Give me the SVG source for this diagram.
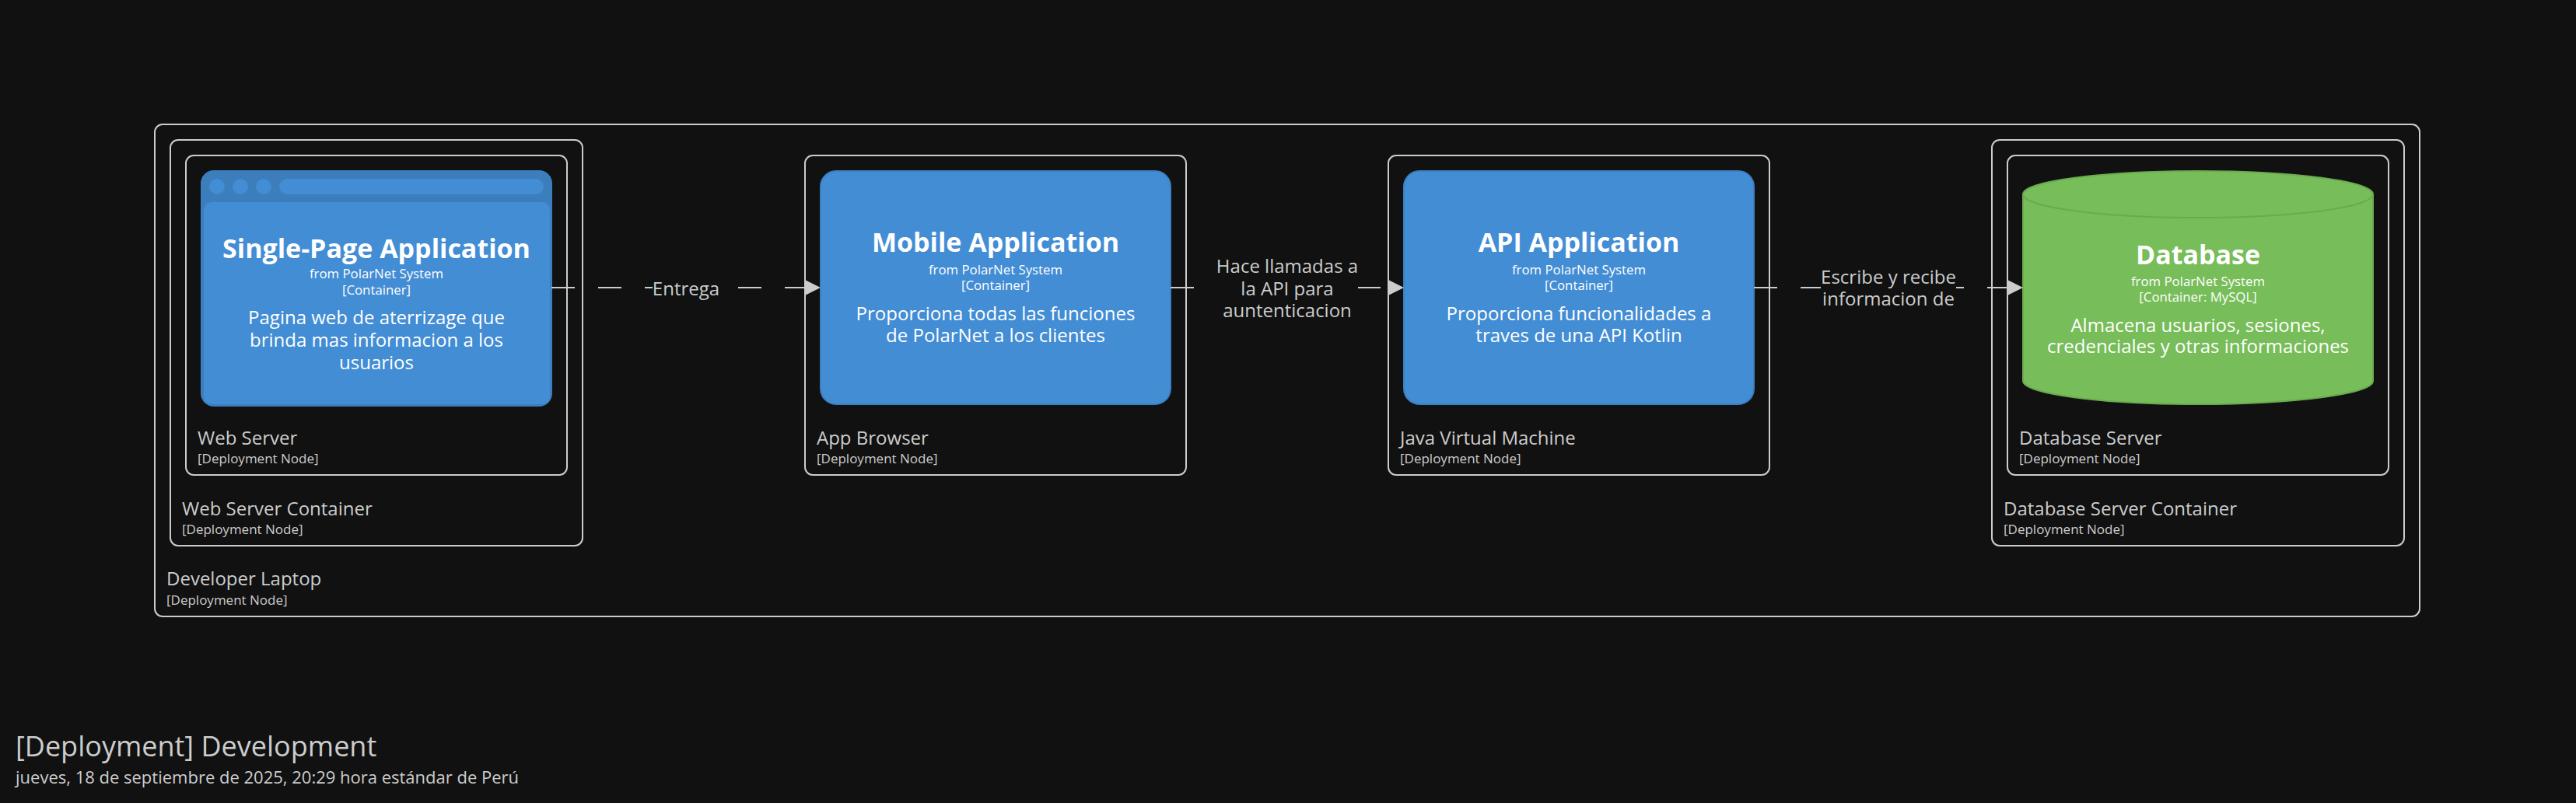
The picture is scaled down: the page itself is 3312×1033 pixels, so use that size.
<svg xmlns="http://www.w3.org/2000/svg" width="3312" height="1033" viewBox="0 0 3312 1033">
<style>
text{font-family:"Open Sans","Noto Sans","Liberation Sans",sans-serif}
.dn{fill:none;stroke:#ccc;stroke-width:2}
.l{fill:#ccc;font-size:24px}
.s{fill:#ccc;font-size:17px}
.c{fill:#438dd5;stroke:#3c7fc0;stroke-width:2}
.t{fill:#fff;font-size:34px;font-weight:700;text-anchor:middle}
.f{fill:#fff;font-size:16.800px;text-anchor:middle}
.d{fill:#fff;font-size:24px;text-anchor:middle}
.e{fill:#ccc;font-size:24px;text-anchor:middle}
.cl{fill:none;stroke:#ccc;stroke-width:2;stroke-dasharray:30 30}
.bg{fill:#111}
</style>
<defs>
<marker id="arrow" markerUnits="userSpaceOnUse" markerWidth="22" markerHeight="22" refX="0" refY="11" orient="auto"><path d="M0 1L20 11L0 21Z" fill="#ccc"/></marker>
</defs>
<rect width="3312" height="1033" fill="#111"/>
<g id="developer-laptop">
<rect class="dn" x="199" y="160" width="2912" height="633" rx="10"/>
<text class="l" x="214" y="753">Developer Laptop</text>
<text class="s" x="214" y="778">[Deployment Node]</text>
</g>
<g id="web-server-container">
<rect class="dn" x="219" y="180" width="530" height="522" rx="10"/>
<text class="l" x="234" y="663">Web Server Container</text>
<text class="s" x="234" y="687">[Deployment Node]</text>
</g>
<g id="web-server">
<rect class="dn" x="239" y="200" width="490" height="411" rx="10"/>
<text class="l" x="254" y="572">Web Server</text>
<text class="s" x="254" y="596">[Deployment Node]</text>
</g>
<g id="single-page-application">
<rect x="259" y="220" width="450" height="302" rx="16" fill="#3c7dbc" stroke="#3c7fc0" stroke-width="2"/>
<rect x="262" y="260" width="445" height="260" rx="10" fill="#438dd5"/>
<circle cx="279" cy="240" r="10" fill="#438dd5"/>
<circle cx="309" cy="240" r="10" fill="#438dd5"/>
<circle cx="339" cy="240" r="10" fill="#438dd5"/>
<rect x="359" y="230" width="340" height="20" rx="10" fill="#438dd5"/>
<text class="t" x="484" y="331.500">Single-Page Application</text>
<text class="f" x="484" y="358">from PolarNet System</text>
<text class="f" x="484" y="379">[Container]</text>
<text class="d" x="484" y="417">Pagina web de aterrizage que</text>
<text class="d" x="484" y="446">brinda mas informacion a los</text>
<text class="d" x="484" y="475">usuarios</text>
</g>
<g id="app-browser">
<rect class="dn" x="1035" y="200" width="490" height="411" rx="10"/>
<text class="l" x="1050" y="572">App Browser</text>
<text class="s" x="1050" y="596">[Deployment Node]</text>
</g>
<g id="mobile-application">
<rect class="c" x="1055" y="220" width="450" height="300" rx="20"/>
<text class="t" x="1280" y="324">Mobile Application</text>
<text class="f" x="1280" y="353">from PolarNet System</text>
<text class="f" x="1280" y="373">[Container]</text>
<text class="d" x="1280" y="412">Proporciona todas las funciones</text>
<text class="d" x="1280" y="440">de PolarNet a los clientes</text>
</g>
<g id="java-virtual-machine">
<rect class="dn" x="1785" y="200" width="490" height="411" rx="10"/>
<text class="l" x="1800" y="572">Java Virtual Machine</text>
<text class="s" x="1800" y="596">[Deployment Node]</text>
</g>
<g id="api-application">
<rect class="c" x="1805" y="220" width="450" height="300" rx="20"/>
<text class="t" x="2030" y="324">API Application</text>
<text class="f" x="2030" y="353">from PolarNet System</text>
<text class="f" x="2030" y="373">[Container]</text>
<text class="d" x="2030" y="412">Proporciona funcionalidades a</text>
<text class="d" x="2030" y="440">traves de una API Kotlin</text>
</g>
<g id="database-server-container">
<rect class="dn" x="2561" y="180" width="530" height="522" rx="10"/>
<text class="l" x="2576" y="663">Database Server Container</text>
<text class="s" x="2576" y="687">[Deployment Node]</text>
</g>
<g id="database-server">
<rect class="dn" x="2581" y="200" width="490" height="411" rx="10"/>
<text class="l" x="2596" y="572">Database Server</text>
<text class="s" x="2596" y="596">[Deployment Node]</text>
</g>
<g id="database">
<path d="M2601 250A225 30 0 0 1 3051 250V490A225 30 0 0 1 2601 490Z" fill="#77bd59" stroke="#6bab50" stroke-width="2"/>
<path d="M2601 250A225 30 0 0 0 3051 250" fill="none" stroke="#6bab50" stroke-width="2"/>
<text class="t" x="2826" y="340">Database</text>
<text class="f" x="2826" y="368">from PolarNet System</text>
<text class="f" x="2826" y="388">[Container: MySQL]</text>
<text class="d" x="2826" y="427">Almacena usuarios, sesiones,</text>
<text class="d" x="2826" y="454">credenciales y otras informaciones</text>
</g>
<g id="connectors">
<path class="cl" d="M709 370H1035" marker-end="url(#arrow)"/>
<rect class="bg" x="839" y="350" width="87" height="40"/>
<text class="e" x="882" y="380">Entrega</text>
<path class="cl" d="M1505 370H1785" marker-end="url(#arrow)"/>
<rect class="bg" x="1564" y="326" width="182" height="92"/>
<text class="e" x="1655" y="351">Hace llamadas a</text>
<text class="e" x="1655" y="380">la API para</text>
<text class="e" x="1655" y="408">auntenticacion</text>
<path class="cl" d="M2255 370H2581" marker-end="url(#arrow)"/>
<rect class="bg" x="2341" y="342" width="174" height="60"/>
<text class="e" x="2428" y="365">Escribe y recibe</text>
<text class="e" x="2428" y="393">informacion de</text>
</g>
<g id="footer">
<text x="20" y="973" fill="#ccc" font-size="36">[Deployment] Development</text>
<text x="20" y="1008" fill="#ccc" font-size="22">jueves, 18 de septiembre de 2025, 20:29 hora estándar de Perú</text>
</g>
</svg>
